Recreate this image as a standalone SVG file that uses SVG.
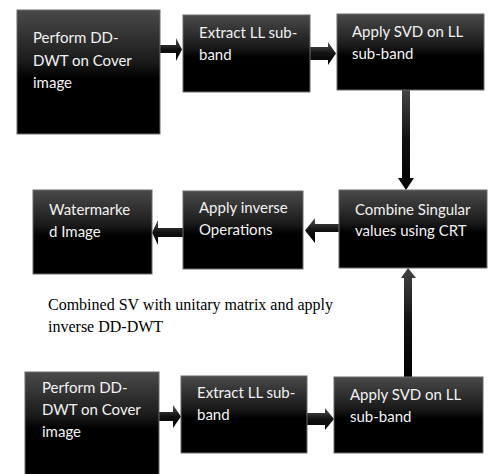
<svg xmlns="http://www.w3.org/2000/svg" width="490" height="474" viewBox="0 0 490 474">
<defs>
<linearGradient id="gBox" x1="0" y1="0" x2="0" y2="1">
<stop offset="0" stop-color="#4a4a4a"/>
<stop offset="0.42" stop-color="#1a1a1a"/>
<stop offset="0.55" stop-color="#000"/>
<stop offset="1" stop-color="#000"/>
</linearGradient>
<linearGradient id="gH" x1="0" y1="0" x2="0" y2="1">
<stop offset="0" stop-color="#555"/>
<stop offset="0.5" stop-color="#111"/>
<stop offset="1" stop-color="#000"/>
</linearGradient>
<linearGradient id="gV" x1="0" y1="0" x2="0" y2="1">
<stop offset="0" stop-color="#444"/>
<stop offset="0.5" stop-color="#111"/>
<stop offset="1" stop-color="#000"/>
</linearGradient>
</defs>
<style>
.box{fill:url(#gBox);stroke:#6a6a6a;stroke-width:1}
.t{font-family:Lato,"Open Sans",sans-serif;font-size:15px;fill:#f2f2f2}
.s{font-family:"Liberation Serif",serif;font-size:16px;fill:#000}
.ah{fill:url(#gH)}
.av{fill:url(#gV)}
</style>
<rect width="490" height="474" fill="#fff"/>
<g id="connectors">
<polygon class="ah" points="160,45 176,45 176,38 182,49.5 176,61 176,53 160,53"/>
<polygon class="ah" points="310,47 328,47 328,42 336,53.5 328,65 328,60 310,60"/>
<polygon class="av" points="402,90 410,90 410,178 414,178 406,190 398,178 402,178"/>
<polygon class="ah" points="343,224 315,224 315,218 305,230.5 315,243 315,232 343,232"/>
<polygon class="ah" points="185,228 158,228 158,220 152,232.5 158,245 158,237 185,237"/>
<polygon class="av" points="404,377 412,377 412,278 416,278 408,268 401,278 404,278"/>
<polygon class="ah" points="159,412 173,412 173,405 181,416.5 173,428 173,421 159,421"/>
<polygon class="ah" points="307,413 325,413 325,408 334,419 325,430 325,425 307,425"/>
</g>
<g id="n1"><rect class="box" x="17" y="10" width="143" height="124"/>
<text class="t" x="33" y="43">Perform DD-</text><text class="t" x="33" y="66">DWT on Cover</text><text class="t" x="33" y="88">image</text></g>
<g id="n2"><rect class="box" x="183" y="15" width="127" height="77"/>
<text class="t" x="199" y="38">Extract LL sub-</text><text class="t" x="199" y="60">band</text></g>
<g id="n3"><rect class="box" x="337" y="14" width="147" height="76"/>
<text class="t" x="352" y="37">Apply SVD on LL</text><text class="t" x="352" y="59">sub-band</text></g>
<g id="n4"><rect class="box" x="339" y="190" width="148" height="78"/>
<text class="t" x="355" y="215">Combine Singular</text><text class="t" x="355" y="236">values using CRT</text></g>
<g id="n5"><rect class="box" x="183" y="191" width="120" height="78"/>
<text class="t" x="199" y="213">Apply inverse</text><text class="t" x="199" y="235">Operations</text></g>
<g id="n6"><rect class="box" x="33" y="190" width="119" height="84"/>
<text class="t" x="49" y="215">Watermarke</text><text class="t" x="49" y="237">d Image</text></g>
<g id="note"><text class="s" x="48" y="310">Combined SV with unitary matrix and apply</text><text class="s" x="48" y="332">inverse DD-DWT</text></g>
<g id="n7"><rect class="box" x="25" y="372" width="134" height="104"/>
<text class="t" x="42" y="393">Perform DD-</text><text class="t" x="42" y="415">DWT on Cover</text><text class="t" x="42" y="437">image</text></g>
<g id="n8"><rect class="box" x="181" y="376" width="126" height="77"/>
<text class="t" x="197" y="398">Extract LL sub-</text><text class="t" x="197" y="420">band</text></g>
<g id="n9"><rect class="box" x="334" y="377" width="149" height="76"/>
<text class="t" x="350" y="400">Apply SVD on LL</text><text class="t" x="350" y="422">sub-band</text></g>
</svg>
